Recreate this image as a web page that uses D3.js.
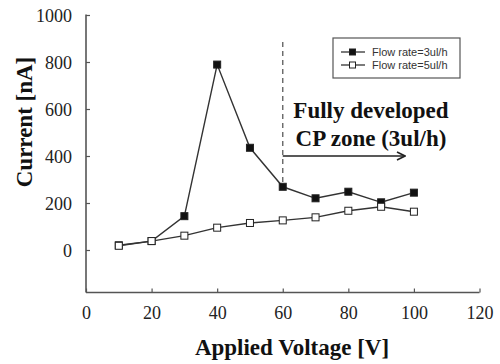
<!DOCTYPE html>
<html>
<head>
<meta charset="utf-8">
<script src="https://cdn.jsdelivr.net/npm/d3@7"></script>
<style>
  body { margin: 0; background: #fff; }
  svg { display: block; }
</style>
</head>
<body>
<svg id="chart" width="500" height="364"></svg>
<script>
// voltages [V]
const voltage = [10, 20, 30, 40, 50, 60, 70, 80, 90, 100];
// current [nA] for each flow rate
const flow3 = [20, 38, 144, 789, 435, 269, 220, 248, 203, 244];
const flow5 = [18, 38, 61, 95, 115, 126, 139, 167, 184, 163];
const seriesNames = ["Flow rate=3ul/h", "Flow rate=5ul/h"];
const xTicks = [0, 20, 40, 60, 80, 100, 120];
const yTicks = [0, 200, 400, 600, 800, 1000];

const svg = d3.select("#chart");
const serif = "Liberation Serif, Times New Roman, serif";

let x = d3.scaleLinear().domain([0, 120]).range([86, 479.5]);
let y = d3.scaleLinear().domain([0, 1000]).range([250, 15]);
const yBottom = 292.5;
const axisColor = "#555";

// axes
let xAxis = svg.append("g").attr("transform", "translate(0," + yBottom + ")")
  .call(d3.axisTop(x).tickValues(xTicks).tickSize(4).tickFormat(d3.format("d")));
xAxis.select(".domain").remove();
xAxis.append("line").attr("x1", 86).attr("x2", x(120)).attr("stroke", axisColor).attr("stroke-width", 1.6);
xAxis.selectAll(".tick line").attr("stroke", axisColor).attr("stroke-width", 1.2);
xAxis.selectAll(".tick text")
  .attr("y", 26).attr("dy", 0).attr("fill", "#222")
  .style("font-family", serif).style("font-size", "18px");

let yAxis = svg.append("g").attr("transform", "translate(86,0)")
  .call(d3.axisRight(y).tickValues(yTicks).tickSize(4).tickFormat(d3.format("d")));
yAxis.select(".domain").remove();
yAxis.append("line").attr("y1", 14.5).attr("y2", yBottom).attr("stroke", axisColor).attr("stroke-width", 1.6);
yAxis.selectAll(".tick line").attr("stroke", axisColor).attr("stroke-width", 1.2);
yAxis.selectAll(".tick text")
  .attr("x", -14).attr("text-anchor", "end").attr("dy", "0.35em").attr("fill", "#222")
  .style("font-family", serif).style("font-size", "18px");

// axis titles
svg.append("text").attr("x", 292).attr("y", 355).attr("text-anchor", "middle")
  .style("font-family", serif).style("font-weight", "bold").style("font-size", "23px")
  .attr("fill", "#111").text("Applied Voltage [V]");
svg.append("text").attr("transform", "translate(32,122) rotate(-90)").attr("text-anchor", "middle")
  .style("font-family", serif).style("font-weight", "bold").style("font-size", "23px")
  .attr("fill", "#111").text("Current [nA]");

// dashed marker at 60 V and the arrow
svg.append("line").attr("x1", x(60)).attr("x2", x(60)).attr("y1", 42).attr("y2", y(flow3[5]))
  .attr("stroke", "#666").attr("stroke-width", 1.4).attr("stroke-dasharray", "5,4");
svg.append("defs").append("marker").attr("id", "arr")
  .attr("viewBox", "0 0 10 10").attr("refX", 9).attr("refY", 5)
  .attr("markerWidth", 10).attr("markerHeight", 10).attr("markerUnits", "userSpaceOnUse")
  .attr("orient", "auto")
  .append("path").attr("d", "M1,1 L9,5 L1,9").attr("fill", "none").attr("stroke", "#222").attr("stroke-width", 1.6);
svg.append("line").attr("x1", x(60)).attr("x2", 405).attr("y1", 156).attr("y2", 156)
  .attr("stroke", "#222").attr("stroke-width", 1.6).attr("marker-end", "url(#arr)");

svg.append("text").attr("x", 371).attr("y", 118).attr("text-anchor", "middle")
  .style("font-family", serif).style("font-weight", "bold").style("font-size", "23px")
  .attr("fill", "#111").text("Fully developed");
svg.append("text").attr("x", 371).attr("y", 146).attr("text-anchor", "middle")
  .style("font-family", serif).style("font-weight", "bold").style("font-size", "23px")
  .attr("fill", "#111").text("CP zone (3ul/h)");

// series
let line = d3.line().x(d => x(d[0])).y(d => y(d[1]));
const series = [
  { values: flow3, fill: "#111" },
  { values: flow5, fill: "#fff" }
];
series.forEach(s => {
  let pts = voltage.map((v, i) => [v, s.values[i]]);
  svg.append("path").datum(pts).attr("d", line)
    .attr("fill", "none").attr("stroke", "#333").attr("stroke-width", 1.4);
  svg.append("g").selectAll("rect").data(pts).enter().append("rect")
    .attr("x", d => x(d[0]) - 3.5).attr("y", d => y(d[1]) - 3.5)
    .attr("width", 7).attr("height", 7)
    .attr("fill", s.fill).attr("stroke", "#222").attr("stroke-width", 1);
});

// legend
let legend = svg.append("g");
legend.append("rect").attr("x", 333).attr("y", 38).attr("width", 127).attr("height", 40)
  .attr("fill", "#fff").attr("stroke", "#555").attr("stroke-width", 1.2);
series.forEach((s, i) => {
  let ly = 52 + i * 13;
  legend.append("line").attr("x1", 341).attr("x2", 365).attr("y1", ly).attr("y2", ly)
    .attr("stroke", "#333").attr("stroke-width", 1.3);
  legend.append("rect").attr("x", 349.5).attr("y", ly - 3).attr("width", 6).attr("height", 6)
    .attr("fill", s.fill).attr("stroke", "#222").attr("stroke-width", 1);
  legend.append("text").attr("x", 372).attr("y", ly).attr("dy", "0.35em")
    .style("font-family", "Liberation Sans, Arial, sans-serif").style("font-size", "11px")
    .attr("fill", "#333").text(seriesNames[i]);
});
</script>
</body>
</html>
